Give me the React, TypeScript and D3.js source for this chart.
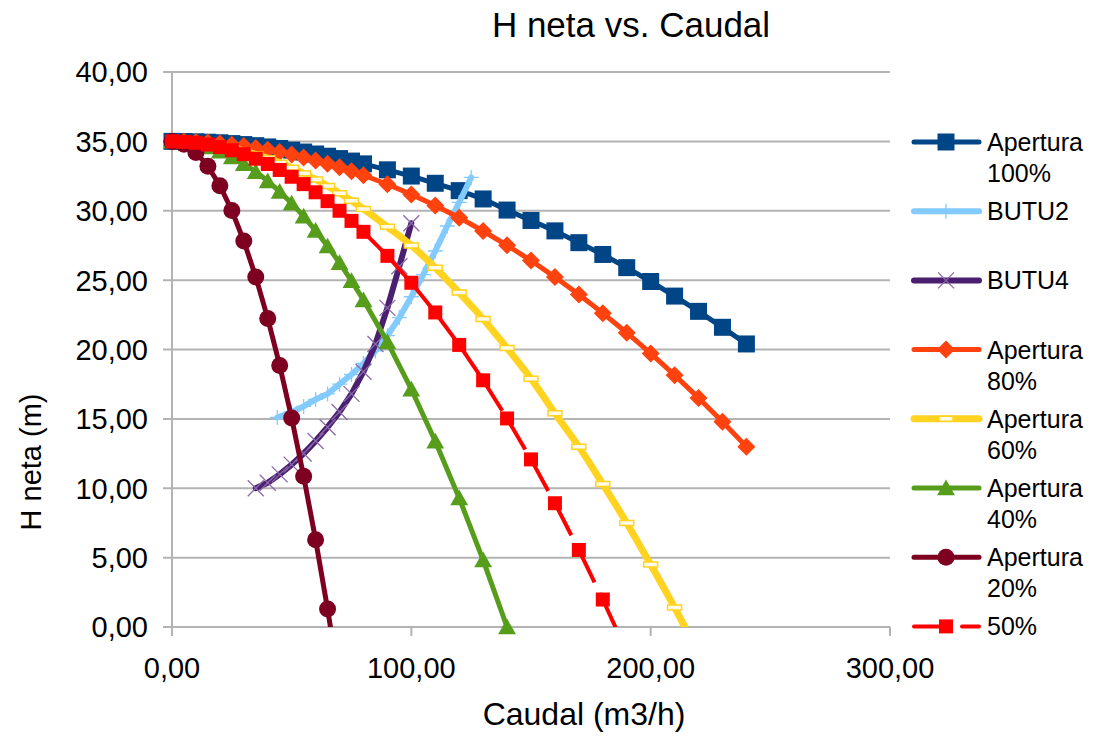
import React, { useEffect, useRef } from "react";
import * as d3 from "d3";

// Caudal (m3/h) column shared by the "Apertura" series (finer steps up to 80)
const qApertura = [0, 5, 10, 15, 20, 25, 30, 35, 40, 45, 50, 55, 60, 65, 70, 75, 80, 90, 100, 110, 120, 130, 140, 150, 160, 170, 180, 190, 200, 210, 220, 230, 240];

// H neta (m) per series
const hApertura100 = [35.0, 34.99, 34.97, 34.94, 34.9, 34.84, 34.77, 34.69, 34.6, 34.49, 34.37, 34.23, 34.09, 33.93, 33.76, 33.58, 33.38, 32.95, 32.5, 31.98, 31.45, 30.85, 30.05, 29.3, 28.55, 27.7, 26.85, 25.9, 24.9, 23.85, 22.75, 21.6, 20.4];
const hApertura80 = [35.0, 34.99, 34.96, 34.91, 34.85, 34.76, 34.66, 34.53, 34.39, 34.23, 34.05, 33.84, 33.62, 33.39, 33.13, 32.85, 32.56, 31.91, 31.18, 30.38, 29.5, 28.54, 27.51, 26.41, 25.22, 23.96, 22.62, 21.21, 19.72, 18.15, 16.51, 14.79, 13.0];
const hApertura60 = [35.0, 34.98, 34.92, 34.83, 34.7, 34.52, 34.31, 34.06, 33.78, 33.46, 33.1, 32.7, 32.26, 31.79, 31.27, 30.72, 30.13, 28.84, 27.5, 25.9, 24.1, 22.2, 20.1, 17.9, 15.4, 13.0, 10.3, 7.5, 4.5, 1.4, -1.9];
const hApertura40 = [35.0, 34.96, 34.82, 34.6, 34.29, 33.88, 33.39, 32.81, 32.14, 31.38, 30.54, 29.6, 28.57, 27.45, 26.25, 24.95, 23.57, 20.54, 17.14, 13.39, 9.29, 4.82, 0];
const hApertura20 = [35.0, 34.8, 34.2, 33.21, 31.81, 30.02, 27.82, 25.23, 22.24, 18.85, 15.06, 10.87, 6.29, 1.3, -4.1];
const h50 = [35.0, 34.97, 34.9, 34.77, 34.59, 34.36, 34.08, 33.75, 33.37, 32.94, 32.45, 31.92, 31.33, 30.69, 30.0, 29.27, 28.48, 26.75, 24.81, 22.67, 20.33, 17.78, 15.03, 12.08, 8.92, 5.55, 1.98, -1.79];

const qButu2 = [44, 50, 55, 60, 65, 70, 75, 80, 85, 90, 95, 100, 105, 110, 115, 120, 125];
const hButu2 = [15.1, 15.5, 15.9, 16.4, 16.8, 17.5, 18.2, 19.0, 19.9, 21.0, 22.3, 23.8, 25.4, 27.1, 28.9, 30.6, 32.4];

const qButu4 = [35, 40, 45, 50, 55, 60, 65, 70, 75, 80, 85, 90, 95, 100];
const hButu4 = [10.0, 10.4, 11.0, 11.7, 12.5, 13.4, 14.4, 15.5, 16.8, 18.4, 20.4, 23.0, 26.0, 29.1];

const xTicks = [0, 100, 200, 300];
const yTicks = [0, 5, 10, 15, 20, 25, 30, 35, 40];

type Marker = "square" | "plus" | "x" | "diamond" | "dash" | "triangle" | "circle";

interface Series {
  label: string[];
  q: number[];
  h: number[];
  color: string;
  lineWidth: number;
  marker: Marker;
  markerSize: number;
  markerColor?: string;
  dashed?: boolean;
  smooth?: boolean;
}

const series: Series[] = [
  { label: ["Apertura", "100%"], q: qApertura, h: hApertura100, color: "#004586", lineWidth: 5, marker: "square", markerSize: 17 },
  { label: ["BUTU2"], q: qButu2, h: hButu2, color: "#83CAFF", lineWidth: 6, marker: "plus", markerSize: 15 },
  { label: ["BUTU4"], q: qButu4, h: hButu4, color: "#4B1F6F", lineWidth: 6, marker: "x", markerSize: 16, markerColor: "#8a6aab" },
  { label: ["Apertura", "80%"], q: qApertura, h: hApertura80, color: "#FF420E", lineWidth: 5, marker: "diamond", markerSize: 18 },
  { label: ["Apertura", "60%"], q: qApertura, h: hApertura60, color: "#FFD320", lineWidth: 7, marker: "dash", markerSize: 14, smooth: true },
  { label: ["Apertura", "40%"], q: qApertura, h: hApertura40, color: "#579D1C", lineWidth: 5, marker: "triangle", markerSize: 17 },
  { label: ["Apertura", "20%"], q: qApertura, h: hApertura20, color: "#7E0021", lineWidth: 5, marker: "circle", markerSize: 17 },
  { label: ["50%"], q: qApertura, h: h50, color: "#FF0000", lineWidth: 4, marker: "square", markerSize: 14, dashed: true },
];

function markerPath(type: Marker, s: number): string {
  const r = s / 2;
  switch (type) {
    case "square":
      return `M${-r},${-r}h${s}v${s}h${-s}Z`;
    case "diamond":
      return `M0,${-r}L${r},0L0,${r}L${-r},0Z`;
    case "triangle":
      return `M0,${-r}L${r * 1.05},${r * 0.85}L${-r * 1.05},${r * 0.85}Z`;
    case "circle":
      return d3.symbol(d3.symbolCircle, Math.PI * r * r)() || "";
    case "plus":
      return `M${-r},0H${r}M0,${-r}V${r}`;
    case "x":
      return `M${-r},${-r}L${r},${r}M${r},${-r}L${-r},${r}`;
    case "dash":
      return `M${-r},-2.5h${s}v5h${-s}Z`;
  }
}

function drawMarker(g: d3.Selection<SVGGElement, unknown, null, undefined>, s: Series, x: number, y: number) {
  const p = g.append("path").attr("d", markerPath(s.marker, s.markerSize)).attr("transform", `translate(${x},${y})`);
  if (s.marker === "plus" || s.marker === "x") {
    p.attr("fill", "none").attr("stroke", s.markerColor || s.color).attr("stroke-width", 1.3);
  } else if (s.marker === "dash") {
    p.attr("fill", "#fffbe6").attr("stroke", s.color).attr("stroke-width", 1.5);
  } else {
    p.attr("fill", s.color);
  }
}

const FONT = "'Liberation Sans', Arial, sans-serif";

export default function App() {
  const svgRef = useRef<SVGSVGElement>(null);
  const width = 1100;
  const height = 745;

  useEffect(() => {
    if (!svgRef.current) return;
    const svg = d3.select(svgRef.current);
    svg.selectAll("*").remove();

    const x = d3.scaleLinear().domain([0, 300]).range([172, 890]);
    const y = d3.scaleLinear().domain([0, 40]).range([627, 72]);
    const fmt = (v: number) => d3.format(".2f")(v).replace(".", ",");

    svg.append("rect").attr("width", width).attr("height", height).attr("fill", "#fff");

    svg
      .append("defs")
      .append("clipPath")
      .attr("id", "plot-clip")
      .append("rect")
      .attr("x", x(0))
      .attr("y", y(40))
      .attr("width", x(300) - x(0))
      .attr("height", y(0) - y(40));

    // gridlines + y ticks
    const grid = svg.append("g");
    yTicks.forEach((t) => {
      grid
        .append("line")
        .attr("x1", x(0) - 9)
        .attr("x2", x(300))
        .attr("y1", y(t))
        .attr("y2", y(t))
        .attr("stroke", "#b3b3b3")
        .attr("stroke-width", 2);
      grid
        .append("text")
        .attr("x", 148)
        .attr("y", y(t))
        .attr("dy", "0.36em")
        .attr("text-anchor", "end")
        .style("font-family", FONT)
        .style("font-size", "29px")
        .attr("fill", "#000")
        .text(fmt(t));
    });

    // y axis line
    grid
      .append("line")
      .attr("x1", x(0))
      .attr("x2", x(0))
      .attr("y1", y(40))
      .attr("y2", y(0))
      .attr("stroke", "#b3b3b3")
      .attr("stroke-width", 2);

    // x ticks
    xTicks.forEach((t) => {
      grid
        .append("line")
        .attr("x1", x(t))
        .attr("x2", x(t))
        .attr("y1", y(0))
        .attr("y2", y(0) + 9)
        .attr("stroke", "#b3b3b3")
        .attr("stroke-width", 2);
      grid
        .append("text")
        .attr("x", x(t))
        .attr("y", 668)
        .attr("dy", "0.36em")
        .attr("text-anchor", "middle")
        .style("font-family", FONT)
        .style("font-size", "29px")
        .attr("fill", "#000")
        .text(fmt(t));
    });

    // series
    const plot = svg.append("g");
    series.forEach((s) => {
      const pts: [number, number][] = s.q.slice(0, s.h.length).map((q, i) => [x(q), y(s.h[i])]);
      const line = d3
        .line<[number, number]>()
        .x((d) => d[0])
        .y((d) => d[1])
        .curve(s.smooth ? d3.curveCatmullRom.alpha(0.5) : d3.curveLinear);
      const lg = plot.append("g").attr("clip-path", "url(#plot-clip)");
      if (s.dashed) {
        // dash pattern restarts at every point
        for (let i = 0; i < pts.length - 1; i++) {
          lg.append("path")
            .attr("d", line([pts[i], pts[i + 1]]))
            .attr("fill", "none")
            .attr("stroke", s.color)
            .attr("stroke-width", s.lineWidth)
            .attr("stroke-dasharray", "36,12");
        }
      } else {
        lg.append("path")
          .attr("d", line(pts))
          .attr("fill", "none")
          .attr("stroke", s.color)
          .attr("stroke-width", s.lineWidth)
          .attr("stroke-linejoin", "round")
          .attr("stroke-linecap", "round");
      }
      const mg = plot.append("g");
      s.h.forEach((h, i) => {
        if (h < 0) return;
        drawMarker(mg, s, x(s.q[i]), y(h));
      });
    });

    // legend
    const legend = svg.append("g");
    series.forEach((s, i) => {
      const ly = 142 + i * 69.2;
      const row = legend.append("g");
      row
        .append("line")
        .attr("x1", 914)
        .attr("x2", 979)
        .attr("y1", ly)
        .attr("y2", ly)
        .attr("stroke", s.color)
        .attr("stroke-width", s.lineWidth)
        .attr("stroke-linecap", "round")
        .attr("stroke-dasharray", s.dashed ? "36,12" : null);
      drawMarker(row, s, 946, ly);
      s.label.forEach((t, j) => {
        row
          .append("text")
          .attr("x", 987)
          .attr("y", ly + j * 31)
          .attr("dy", "0.36em")
          .style("font-family", FONT)
          .style("font-size", "25px")
          .attr("fill", "#000")
          .text(t);
      });
    });

    // titles
    svg
      .append("text")
      .attr("x", 631)
      .attr("y", 24)
      .attr("dy", "0.36em")
      .attr("text-anchor", "middle")
      .style("font-family", FONT)
      .style("font-size", "35px")
      .text("H neta vs. Caudal");

    svg
      .append("text")
      .attr("x", 584)
      .attr("y", 713)
      .attr("dy", "0.36em")
      .attr("text-anchor", "middle")
      .style("font-family", FONT)
      .style("font-size", "32px")
      .text("Caudal (m3/h)");

    svg
      .append("text")
      .attr("transform", `translate(31, 462) rotate(-90)`)
      .attr("dy", "0.36em")
      .attr("text-anchor", "middle")
      .style("font-family", FONT)
      .style("font-size", "29px")
      .text("H neta (m)");
  }, []);

  return (
    <div style={{ position: "absolute", left: 0, top: 0 }}>
      <svg ref={svgRef} width={width} height={height} style={{ display: "block" }}></svg>
    </div>
  );
}
